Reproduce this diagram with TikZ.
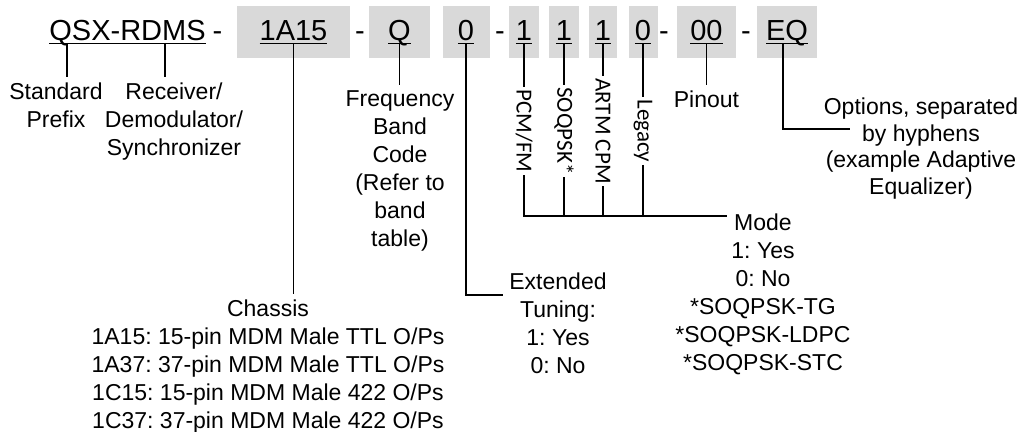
\documentclass[tikz,border=0pt]{standalone}
\usepackage{fontspec}
\setmainfont{Liberation Sans}
\newfontfamily\vertfont{Carlito}
\usetikzlibrary{positioning}
\definecolor{fieldgray}{RGB}{217,217,217}
\newcommand\codeul[1]{\setbox0\hbox{#1}\rlap{\rule[-2pt]{\wd0}{0.7pt}}\box0}
\frenchspacing

\begin{document}
\begin{tikzpicture}[x=0.5pt,y=-0.5pt,line width=0.65pt,
  code/.style={font=\fontsize{14.5}{17}\selectfont,inner sep=0pt,text height=10.5pt,text depth=2pt},
  field/.style={code,fill=fieldgray,minimum height=26pt},
  lbl/.style={font=\fontsize{11.5}{14}\selectfont,align=center,inner sep=2.5pt,anchor=north},
  vert/.style={font=\vertfont\fontsize{11.5}{13}\selectfont,rotate=-90,inner sep=1pt}]
  \useasboundingbox (0,0) rectangle (1025,432);

  % part number
  \node[code] (qsx) at (127.5,32) {\codeul{QSX-RDMS}};
  \node[code] (d1) at (217.5,32) {-};
  \node[field,minimum width=56.5pt] (chs) at (293.5,32) {\codeul{1A15}};
  \node[code] (d2) at (360,32) {-};
  \node[field,minimum width=30.5pt] (bnd) at (399.5,32) {\codeul{Q}};
  \node[field,minimum width=23.5pt] (tun) at (466,32) {\codeul{0}};
  \node[code] (d3) at (500,32) {-};
  \node[field,minimum width=15pt] (b1) at (524,32) {\codeul{1}};
  \node[field,minimum width=15pt] (b2) at (564,32) {\codeul{1}};
  \node[field,minimum width=14pt] (b3) at (603,32) {\codeul{1}};
  \node[field,minimum width=14.5pt] (b4) at (643,32) {\codeul{0}};
  \node[code] (d4) at (664,32) {-};
  \node[field,minimum width=29.5pt] (pno) at (706.5,32) {\codeul{00}};
  \node[code] (d5) at (746,32) {-};
  \node[field,minimum width=30pt] (opt) at (787,32) {\codeul{EQ}};

  % labels
  \node[lbl] (stdl) at (56,77) {Standard\\Prefix};
  \node[lbl] (rcvl) at (174,77) {Receiver/\\Demodulator/\\Synchronizer};
  \node[lbl] (chsl) at (268,294) {Chassis\\1A15: 15-pin MDM Male TTL O/Ps\\1A37: 37-pin MDM Male TTL O/Ps\\1C15: 15-pin MDM Male 422 O/Ps\\1C37: 37-pin MDM Male 422 O/Ps};
  \node[lbl] (bndl) at (400,85) {Frequency\\Band\\Code\\(Refer to\\band\\table)};
  \node[lbl] (tunl) at (558,267) {Extended\\Tuning:\\1: Yes\\0: No};
  \node[lbl] (pnol) at (706.5,85) {Pinout};
  \node[lbl] (model) at (763,208) {Mode\\1: Yes\\0: No\\*SOQPSK-TG\\*SOQPSK-LDPC\\*SOQPSK-STC};
  \node[lbl,font=\fontsize{11.5}{13.4}\selectfont] (optl) at (921,92) {Options, separated\\by hyphens\\(example Adaptive\\Equalizer)};

  % mode bits
  \node[vert] (pcm) at (524,131) {PCM/FM};
  \node[vert] (soq) at (564,131) {SOQPSK*};
  \node[vert] (artm) at (603,131) {ARTM CPM};
  \node[vert] (leg) at (643,131) {Legacy};

  \coordinate (pre) at (67,43);
  \coordinate (dev) at (165,43);
  \coordinate (tunin) at (503,295);
  \coordinate (modein) at (727,216);
  \coordinate (optin) at (850,129);

  \path
    (pre) edge (pre |- stdl.north)
    (dev) edge (dev |- rcvl.north)
    ([yshift=-1.5pt]chs.base) edge (chs |- chsl.north)
    ([yshift=-1.5pt]bnd.base) edge (bnd |- bndl.north)
    ([yshift=-1.5pt]pno.base) edge (pno |- pnol.north)
    ([yshift=-1.5pt]b1.base) edge (pcm.west)
    ([yshift=-1.5pt]b2.base) edge (soq.west)
    ([yshift=-1.5pt]b3.base) edge (artm.west)
    ([yshift=-1.5pt]b4.base) edge (leg.west)
    (soq.east) edge (soq.east |- modein)
    (artm.east) edge (artm.east |- modein)
    (leg.east) edge (leg.east |- modein);
  \draw (pcm.east) |- (modein);
  \draw ([yshift=-1.5pt]tun.base) |- (tunin);
  \draw ([xshift=-2pt,yshift=-1.5pt]opt.base) |- (optin);
\end{tikzpicture}
\end{document}
